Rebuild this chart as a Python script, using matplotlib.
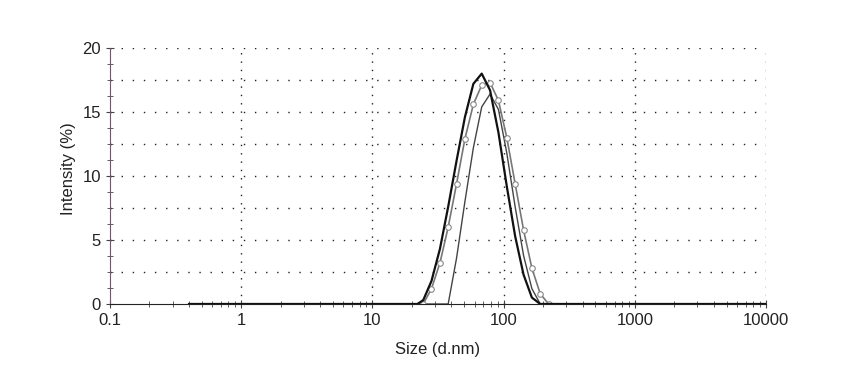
import matplotlib.pyplot as plt
from matplotlib.ticker import MultipleLocator, NullFormatter

plt.rcParams['font.family'] = ['Liberation Sans', 'DejaVu Sans']

# sizes (d.nm) and intensity (%) for the three measurements
size_a = [0.4, 22.0, 24.4, 28.2, 32.7, 37.8, 43.8, 50.7, 58.8, 68.1, 78.8, 91.3, 105.7, 122.4, 141.8, 164.2, 190.1, 10000]
int_a = [0, 0, 0.3, 1.8, 4.3, 7.6, 11.2, 14.6, 17.2, 18.0, 16.7, 13.4, 9.2, 5.3, 2.3, 0.5, 0, 0]

size_b = [0.4, 24.4, 28.2, 32.7, 37.8, 43.8, 50.7, 58.8, 68.1, 78.8, 91.3, 105.7, 122.4, 141.8, 164.2, 190.1, 220.2, 10000]
int_b = [0, 0, 1.2, 3.2, 6.0, 9.4, 12.9, 15.6, 17.1, 17.3, 15.9, 13.0, 9.4, 5.8, 2.8, 0.8, 0, 0]

size_c = [0.4, 37.8, 43.8, 50.7, 58.8, 68.1, 78.8, 91.3, 105.7, 122.4, 141.8, 164.2, 190.1, 10000]
int_c = [0, 0, 3.6, 8.0, 12.2, 15.4, 16.4, 15.2, 11.8, 7.6, 3.8, 1.2, 0, 0]

xticks = [0.1, 1, 10, 100, 1000, 10000]
xlabels = ["0.1", "1", "10", "100", "1000", "10000"]

fig = plt.figure(figsize=(8.54, 3.78), dpi=100)
ax = fig.add_axes([0.1288, 0.1958, 0.7682, 0.6772])

ax.plot(size_c, int_c, color="#444444", lw=1.0)
ax.plot(size_b, int_b, color="#777777", lw=1.2, marker="o", ms=4,
        mfc="white", mec="#888888", mew=0.8, markevery=slice(1, -1))
ax.plot(size_a, int_a, color="#111111", lw=1.6)

ax.set_xscale("log")
ax.set_xlim(0.1, 10000)
ax.set_ylim(0, 20)
ax.set_xticks(xticks)
ax.set_xticklabels(xlabels)
ax.xaxis.set_minor_formatter(NullFormatter())
ax.yaxis.set_major_locator(MultipleLocator(5))
ax.yaxis.set_minor_locator(MultipleLocator(1.25))

for y in [2.5, 5, 7.5, 10, 12.5, 15, 17.5, 20]:
    ax.axhline(y, color="#222222", lw=1.0, ls=(0, (1, 7)), zorder=0)
for x in [1, 10, 100, 1000, 10000]:
    ax.axvline(x, color="#222222", lw=1.0, ls=(0, (1, 5)), zorder=0)

ax.spines["top"].set_visible(False)
ax.spines["right"].set_visible(False)
ax.spines["left"].set_color("#6a5a6a")
ax.spines["bottom"].set_color("#222222")
ax.tick_params(which="major", direction="inout", length=6, color="#444444", labelsize=12, colors="#222222")
ax.tick_params(which="minor", direction="inout", length=4, color="#444444")

ax.set_xlabel("Size (d.nm)", fontsize=12, color="#222222", labelpad=10)
ax.set_ylabel("Intensity (%)", fontsize=12, color="#222222", labelpad=10)
ax.yaxis.set_label_coords(-0.052, 0.53)

plt.savefig("out.png", dpi=100)
